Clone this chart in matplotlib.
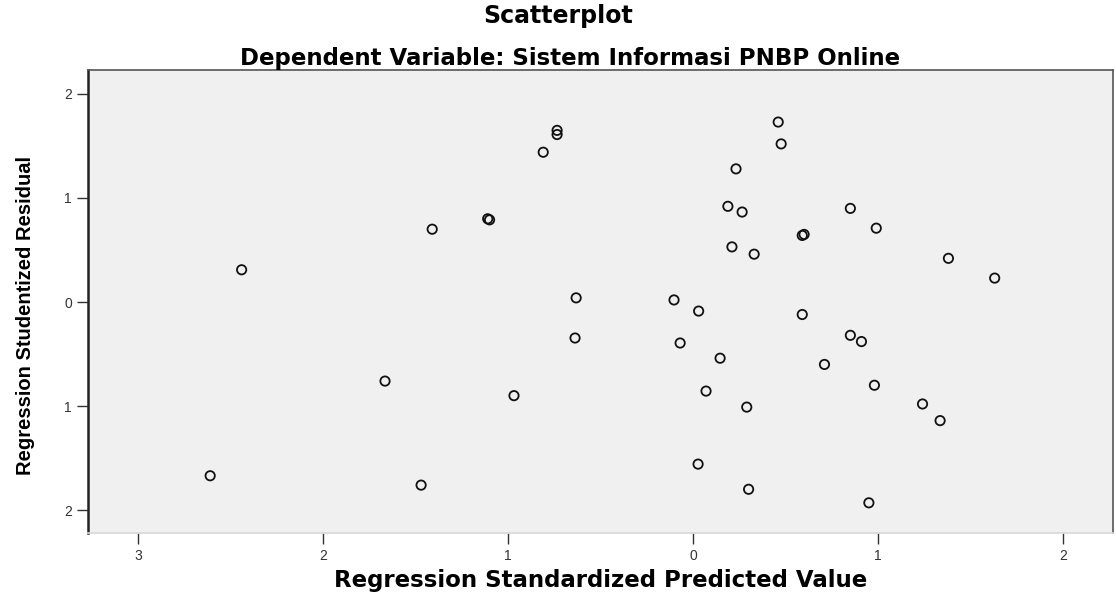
import matplotlib
matplotlib.use("Agg")
import matplotlib.pyplot as plt

# Data
pred = [-2.44, -2.61, -1.665, -1.41, -1.47, -1.10, -1.11, -0.968, -0.735, -0.735,
        -0.81, -0.632, -0.638, -0.103, 0.03, -0.07, 0.146, 0.07, 0.027, 0.188,
        0.265, 0.232, 0.46, 0.476, 0.21, 0.33, 0.59, 0.60, 0.85, 0.99,
        1.38, 1.63, 0.59, 0.85, 0.91, 0.71, 0.98, 1.24, 1.335, 0.95,
        0.30, 0.29]
resid = [0.31, -1.67, -0.76, 0.70, -1.76, 0.79, 0.80, -0.90, 1.65, 1.61,
         1.44, 0.04, -0.346, 0.02, -0.087, -0.394, -0.54, -0.856, -1.558, 0.92,
         0.865, 1.28, 1.73, 1.52, 0.53, 0.46, 0.64, 0.65, 0.90, 0.71,
         0.42, 0.23, -0.12, -0.32, -0.38, -0.60, -0.80, -0.98, -1.14, -1.93,
         -1.80, -1.01]
x_ticks = [-3, -2, -1, 0, 1, 2]
x_tick_labels = ["3", "2", "1", "0", "1", "2"]
y_ticks = [2, 1, 0, -1, -2]
y_tick_labels = ["2", "1", "0", "1", "2"]

plt.rcParams['font.family'] = ['Liberation Sans', 'DejaVu Sans']

fig = plt.figure(figsize=(11.16, 5.92), dpi=100)
ax = fig.add_axes([0.0789, 0.0997, 0.9185, 0.782])
ax.set_facecolor('#f0f0f0')
ax.scatter(pred, resid, s=45, facecolors='none', edgecolors='#111111', linewidths=1.3)

ax.set_xlim(-3.27, 2.27)
ax.set_ylim(-2.22, 2.23)
ax.set_xticks(x_ticks)
ax.set_xticklabels(x_tick_labels, fontsize=10, color='#444444')
ax.set_yticks(y_ticks)
ax.set_yticklabels(y_tick_labels, fontsize=10, color='#444444')
ax.tick_params(axis='both', direction='out', length=8, width=1, colors='#333333')
for sp in ax.spines.values():
    sp.set_color('#555555')
    sp.set_linewidth(1.2)
ax.spines['left'].set_color('#222222')
ax.spines['left'].set_linewidth(1.8)
ax.spines['bottom'].set_color('#d8d8d8')

ax.set_xlabel('Regression Standardized Predicted Value', fontsize=16.5,
              fontweight='bold', family=['DejaVu Sans'])
ax.xaxis.set_label_coords(0.5, -0.078)
ax.set_ylabel('Regression Studentized Residual', fontsize=14.5,
              fontweight='bold', family=['Liberation Sans'])
ax.yaxis.set_label_coords(-0.052, 0.469)

fig.text(0.50, 0.973, 'Scatterplot', ha='center', va='center',
         fontsize=17, fontweight='bold', family=['DejaVu Sans'])
fig.text(0.511, 0.902, 'Dependent Variable: Sistem Informasi PNBP Online',
         ha='center', va='center', fontsize=16.5, fontweight='bold',
         family=['DejaVu Sans'])

fig.savefig('out.png', dpi=100)
